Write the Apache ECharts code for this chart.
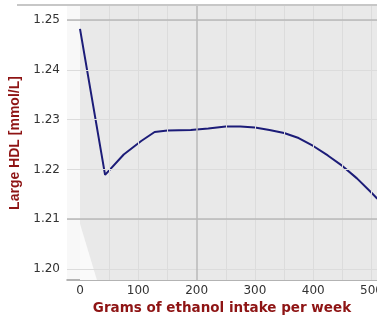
<!DOCTYPE html>
<html>
<head>
<meta charset="utf-8">
<script src="https://cdn.jsdelivr.net/npm/echarts@6/dist/echarts.min.js"></script>
<style>
  html, body { margin: 0; padding: 0; background: #ffffff; }
  #chart { width: 391px; height: 322px; }
</style>
</head>
<body>
<div id="chart"></div>
<script>
// Weekly ethanol intake (g) and the fitted large-HDL level (mmol/L)
const intakeGrams = [0, 43, 75, 105, 128, 150, 190, 220, 250, 275, 300, 325, 350, 375, 400, 425, 450, 475, 500, 510];
const largeHdl = [1.2482, 1.2189, 1.2230, 1.2257, 1.2275, 1.2278, 1.2279, 1.2282, 1.2286, 1.2286,
                  1.2284, 1.2279, 1.2273, 1.2263, 1.2247, 1.2228, 1.2207, 1.2182, 1.2153, 1.2141];

// Axis ticks
const xTicks = [0, 100, 200, 300, 400, 500];
const yTicks = [1.20, 1.21, 1.22, 1.23, 1.24, 1.25];

// Axis extents
const xMin = -22.3, xMax = 509.4;
const yMin = 1.1978, yMax = 1.2528;

// Reference grid lines
const xMinorLines = [50, 100, 150, 250, 300, 350, 400, 450, 500];
const xMajorLines = [200];
const yMinorLines = [1.200, 1.205, 1.215, 1.220, 1.225, 1.230, 1.235, 1.240, 1.245];
const yMajorLines = [1.21, 1.25];

// Pale unshaded wedge at the lower-left of the panel
const wedgeX = [0, 29];
const wedgeY = [1.2091, 1.1978];

const chart = echarts.init(document.getElementById('chart'), null, { renderer: 'canvas' });

const lineStyleMinor = { color: '#dcdcdc', width: 1, type: 'solid' };
const lineStyleMajor = { color: '#b9b9b9', width: 1.5, type: 'solid' };

const gridLineData = []
  .concat(xMinorLines.map(v => ({ xAxis: v, lineStyle: lineStyleMinor })))
  .concat(yMinorLines.map(v => ({ yAxis: v, lineStyle: lineStyleMinor })))
  .concat(xMajorLines.map(v => ({ xAxis: v, lineStyle: lineStyleMajor })))
  .concat(yMajorLines.map(v => ({ yAxis: v, lineStyle: lineStyleMajor })));

const option = {
  animation: false,
  backgroundColor: '#ffffff',
  grid: {
    left: 67, right: 14, top: 6, bottom: 42,
    show: true, backgroundColor: '#f8f8f8', borderWidth: 0
  },
  xAxis: {
    type: 'value',
    min: xMin, max: xMax,
    name: 'Grams of ethanol intake per week',
    nameLocation: 'middle',
    nameGap: 19,
    nameTextStyle: {
      color: '#8e1414', fontFamily: 'DejaVu Sans', fontWeight: 'bold', fontSize: 13.5,
      verticalAlign: 'top'
    },
    axisLine: { show: true, onZero: false, lineStyle: { color: '#9a9a9a', width: 1.5 } },
    axisTick: { show: false, customValues: xTicks },
    axisLabel: {
      customValues: xTicks, color: '#333', fontFamily: 'DejaVu Sans', fontSize: 12, margin: 5,
      formatter: v => String(Math.round(v))
    },
    splitLine: { show: false }
  },
  yAxis: {
    type: 'value',
    min: yMin, max: yMax,
    name: 'Large HDL [mmol/L]',
    nameLocation: 'middle',
    nameGap: 39,
    nameTextStyle: {
      color: '#8e1414', fontFamily: 'Liberation Sans', fontWeight: 'bold', fontSize: 14
    },
    axisLine: { show: false },
    axisTick: { show: true, customValues: yTicks, length: 3, lineStyle: { color: '#777', width: 1 } },
    axisLabel: {
      customValues: yTicks, color: '#333', fontFamily: 'DejaVu Sans', fontSize: 12, margin: 7,
      formatter: v => v.toFixed(2)
    },
    splitLine: { show: false }
  },
  series: [
    {
      // gray plotting panel
      type: 'line', data: [], z: 1, silent: true,
      markArea: {
        silent: true,
        itemStyle: { color: '#e9e9e9' },
        data: [[{ xAxis: 0 }, { xAxis: xMax }]]
      }
    },
    {
      type: 'line', z: 2, silent: true, symbol: 'none',
      data: wedgeX.map((x, i) => [x, wedgeY[i]]),
      lineStyle: { width: 0 },
      areaStyle: { color: '#fafafa', origin: 'start', opacity: 1 }
    },
    {
      // reference grid
      type: 'line', data: [], z: 3, silent: true,
      markLine: {
        silent: true, symbol: 'none', label: { show: false },
        data: gridLineData
      }
    },
    {
      type: 'line', z: 4, symbol: 'none', smooth: false,
      data: intakeGrams.map((x, i) => [x, largeHdl[i]]),
      lineStyle: { color: '#1c1c78', width: 2 }
    }
  ],
  graphic: [
    {
      type: 'line', z: 100, silent: true,
      shape: { x1: 17, y1: 5, x2: 377, y2: 5 },
      style: { stroke: '#b5b5b5', lineWidth: 1.5 }
    },
    {
      type: 'rect', z: 100, silent: true,
      shape: { x: 377, y: 0, width: 14, height: 322 },
      style: { fill: '#ffffff' }
    }
  ]
};

chart.setOption(option);
</script>
</body>
</html>
